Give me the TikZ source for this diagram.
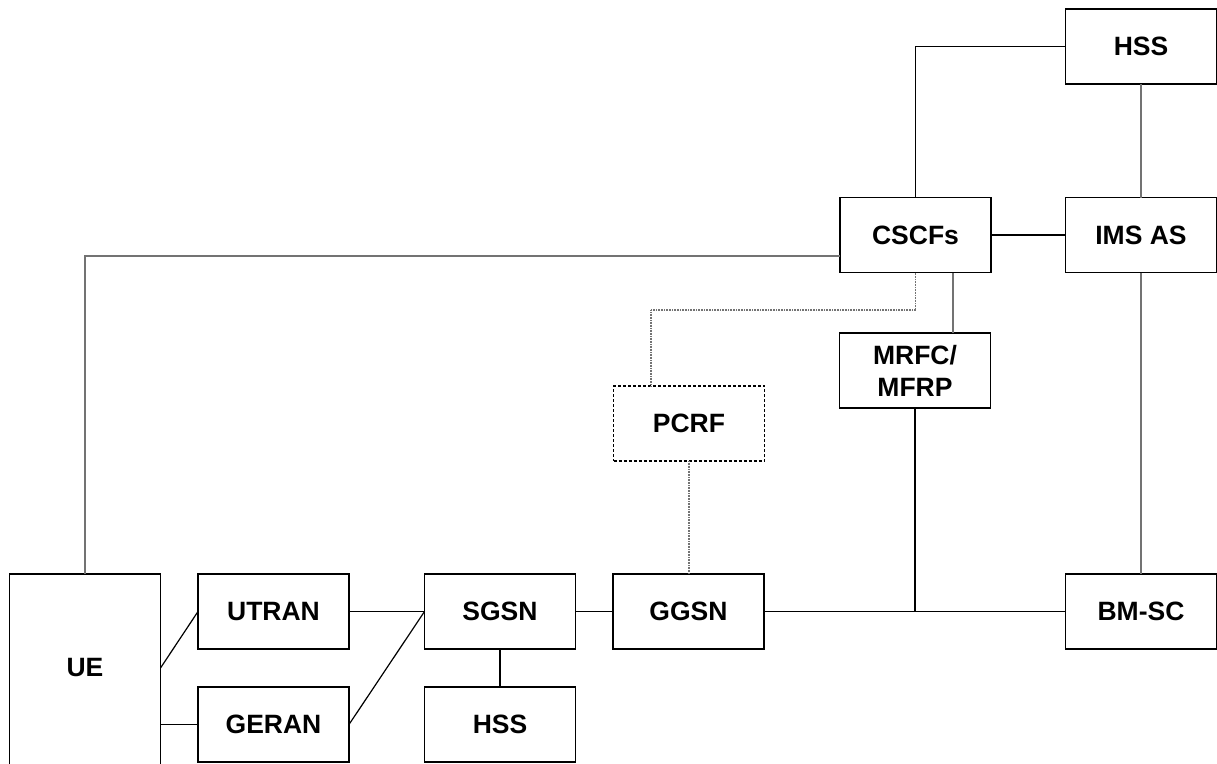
\documentclass[tikz,border=0pt]{standalone}
\usepackage{fontspec}
\setmainfont{Liberation Sans}
\begin{document}
\begin{tikzpicture}[x=1pt,y=-1pt,
  box/.style={draw=black,line width=1.6pt,fill=white,minimum width=151pt,minimum height=75pt,inner sep=0pt,outer sep=0pt,
    font=\fontsize{26.5}{32}\selectfont\bfseries,align=center},
  dbox/.style={box,dash pattern=on 3pt off 2pt},
  link/.style={draw=black,line width=1.2pt},
  glink/.style={draw=black!55,line width=1.2pt},
  dlink/.style={draw=black!55,line width=1.1pt,dash pattern=on 1pt off 0.6pt}]
\useasboundingbox (0,0) rectangle (1217,763);
\clip (0,0) rectangle (1217,763);
\fill[white] (0,0) rectangle (1217,763);
% nodes
\node[box] (hssA) at (1141,46.5) {HSS};
\node[box] (cscf) at (915.5,235) {CSCFs};
\node[box] (ims) at (1141,235) {IMS AS};
\node[box] (mrfc) at (915,370.5) {MRFC/\\MFRP};
\node[dbox] (pcrf) at (689,423.5) {PCRF};
\node[box,minimum height=200pt,anchor=north] (ue) at (85,574) {\raisebox{6pt}[\height][\depth]{UE}};
\node[box] (utran) at (273.5,611.5) {UTRAN};
\node[box] (geran) at (273.5,724.5) {GERAN};
\node[box] (sgsn) at (500,611.5) {SGSN};
\node[box] (hssB) at (500,724.5) {HSS};
\node[box] (ggsn) at (688.5,611.5) {GGSN};
\node[box] (bmsc) at (1141,611.5) {BM-SC};
\coordinate (j) at (915,611.5);
\coordinate (cw) at (840,256);
\coordinate (dl) at (651,310);
\coordinate (mt) at (953,273);
% connectors
\draw[link] (hssA.west) -| (cscf.north);
\draw[glink] (hssA.south) -- (ims.north);
\draw[link] (cscf.east) -- (ims.west);
\draw[glink] (cw) -| (ue.north);
\draw[dlink] (cscf.south) |- (dl) -- (dl |- pcrf.north);
\draw[glink] (mt) -- (mt |- mrfc.north);
\draw[dlink] (pcrf.south) -- (pcrf.south |- ggsn.north);
\draw[link] (mrfc.south) -- (j);
\draw[link] (ggsn.east) -- (bmsc.west);
\draw[glink] (ims.south) -- (bmsc.north);
\draw[link] ([yshift=6pt]ue.east) -- (utran.west);
\draw[link] (ue.east |- geran.west) -- (geran.west);
\draw[link] (utran.east) -- (sgsn.west);
\draw[link] (geran.east) -- (sgsn.west);
\draw[link] (sgsn.south) -- (hssB.north);
\draw[link] (sgsn.east) -- (ggsn.west);
\end{tikzpicture}
\end{document}
